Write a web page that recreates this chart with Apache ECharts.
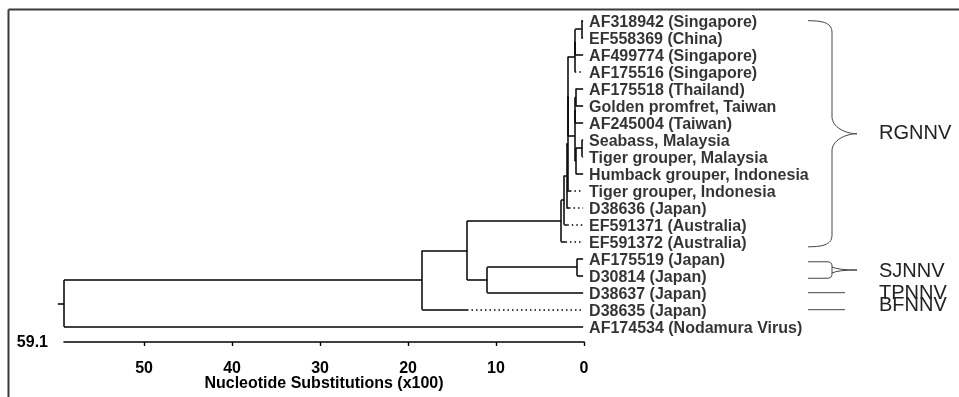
<!DOCTYPE html>
<html>
<head>
<meta charset="utf-8">
<script src="https://cdn.jsdelivr.net/npm/echarts@6/dist/echarts.min.js"></script>
<style>
  html, body { margin: 0; padding: 0; background: #fff; }
  #main { width: 959px; height: 397px; }
</style>
</head>
<body>
<div id="main"></div>
<script>
// leaves, top to bottom
const leafNames = [
  'AF318942 (Singapore)', 'EF558369 (China)', 'AF499774 (Singapore)', 'AF175516 (Singapore)',
  'AF175518 (Thailand)', 'Golden promfret, Taiwan', 'AF245004 (Taiwan)', 'Seabass, Malaysia',
  'Tiger grouper, Malaysia', 'Humback grouper, Indonesia', 'Tiger grouper, Indonesia',
  'D38636 (Japan)', 'EF591371 (Australia)', 'EF591372 (Australia)', 'AF175519 (Japan)',
  'D30814 (Japan)', 'D38637 (Japan)', 'D38635 (Japan)', 'AF174534 (Nodamura Virus)'
];
// internal nodes (children listed before parents), distance from tips (x100 substitutions)
const nodeIds   = ['P01', 'N1', 'N2', 'N3', 'N4', 'F', 'G', 'M', 'K', 'C3', 'C2', 'C1', 'C', 'E', 'D', 'B', 'A', 'root'];
const nodeDist  = [0.3, 1.0, 1.05, 0.95, 1.0, 0.2, 0.95, 1.05, 1.85, 1.9, 2.0, 2.25, 2.6, 0.8, 11.0, 13.3, 18.4, 59.1];
const nodeKids  = [[0, 1], ['P01', 2], ['N1', 3], [4, 5], ['N3', 6], [7, 8], ['F', 9], ['N4', 'G'], ['N2', 'M'],
                   ['K', 10], ['C3', 11], ['C2', 12], ['C1', 13], [14, 15], ['E', 16], ['C', 'D'], ['B', 17], ['A', 18]];
const tipDist = 0.1;
// leaf branches drawn dotted from this distance to the tip
const dottedFrom = { 3: 1.05, 10: 1.6, 11: 1.7, 12: 1.9, 13: 2.1, 17: 13.3 };
const rootStub = 59.8;
const xMax = 59.1;
const xTicks = [0, 10, 20, 30, 40, 50];
// genotype groups: [first leaf, last leaf] (in leaf index units)
const groupNames = ['RGNNV', 'SJNNV', 'TPNNV', 'BFNNV'];
const groupTop = [0, 14.18, 16, 17];
const groupBottom = [13.3, 15.15, 16, 17];

const nodes = {};
function pos(k) {
  return typeof k === 'number' ? { d: tipDist, y: k } : nodes[k];
}
nodeIds.forEach((id, n) => {
  const ys = nodeKids[n].map(k => pos(k).y);
  nodes[id] = { d: nodeDist[n], y: (ys[0] + ys[ys.length - 1]) / 2 };
});

const segs = [];
nodeIds.forEach((id, n) => {
  const d = nodeDist[n];
  const ys = nodeKids[n].map(k => pos(k).y);
  segs.push({ coords: [[d, Math.min(...ys)], [d, Math.max(...ys)]] });
  nodeKids[n].forEach(k => {
    const p = pos(k);
    if (typeof k === 'number' && dottedFrom[k] !== undefined) {
      const f = dottedFrom[k];
      if (f < d) segs.push({ coords: [[d, p.y], [f, p.y]] });
      segs.push({ coords: [[f, p.y], [tipDist, p.y]], lineStyle: { type: [1.5, 3] } });
    } else {
      segs.push({ coords: [[d, p.y], [p.d, p.y]] });
    }
  });
});
segs.push({ coords: [[rootStub, nodes.root.y], [xMax, nodes.root.y]] });

const chart = echarts.init(document.getElementById('main'));
const font = '"Liberation Sans", Arial, sans-serif';

// brace + group name, drawn to the right of the tree
const x0 = 808, x1 = 832, xp = 857, xText = 879;
const textShift = [0, 1.5, 1, -4];
function renderGroup(params, api) {
  const t = api.coord([0, api.value(0)])[1];
  const b = api.coord([0, api.value(1)])[1];
  const m = (t + b) / 2;
  let path;
  if (b - t > 60) {
    path = `M${x0},${t} C${x0 + 17},${t} ${x1},${t + 3} ${x1},${t + 12} L${x1},${m - 17}` +
      ` C${x1},${m - 7} ${x1 + 13},${m} ${xp},${m} C${x1 + 13},${m} ${x1},${m + 7} ${x1},${m + 17}` +
      ` L${x1},${b - 12} C${x1},${b - 3} ${x0 + 17},${b} ${x0},${b}`;
  } else if (b - t > 5) {
    path = `M${x0},${t} L${x1 - 5},${t} Q${x1},${t} ${x1},${t + 4} L${x1},${b - 4} Q${x1},${b} ${x1 - 5},${b} L${x0},${b}` +
      ` M${x1},${m - 3} Q${x1 + 6},${m} ${xp},${m} M${x1},${m + 3} Q${x1 + 6},${m} ${xp},${m}`;
  } else {
    path = `M${x0},${m} L${x0 + 37},${m}`;
  }
  const idx = params.dataIndex;
  return {
    type: 'group',
    children: [
      { type: 'path', shape: { pathData: path }, style: { fill: 'none', stroke: '#444', lineWidth: 1 } },
      {
        type: 'text', x: xText, y: m + textShift[idx],
        style: { text: groupNames[idx], verticalAlign: 'middle', fill: '#222', fontSize: 20, fontFamily: font }
      }
    ]
  };
}

chart.setOption({
  animation: false,
  backgroundColor: '#fff',
  grid: { left: 64, right: 375, top: 20.7, bottom: 70.3, outerBoundsMode: 'none', containLabel: false },
  xAxis: {
    type: 'value',
    inverse: true,
    min: 0,
    max: xMax,
    offset: 15.3,
    splitLine: { show: false },
    axisLine: { onZero: false, lineStyle: { color: '#000', width: 1.6 } },
    axisTick: { length: 4, customValues: xTicks, lineStyle: { color: '#000', width: 1.4 } },
    axisLabel: {
      customValues: xTicks, margin: 19,
      color: '#000', fontSize: 16, fontWeight: 'bold', fontFamily: font
    },
    name: 'Nucleotide Substitutions (x100)',
    nameLocation: 'middle',
    nameGap: 34,
    nameMoveOverlap: false,
    nameTextStyle: { color: '#000', fontSize: 16, fontWeight: 'bold', fontFamily: font }
  },
  yAxis: { type: 'value', inverse: true, min: 0, max: 18, show: false },
  graphic: [
    { id: 'frameTop', type: 'line', shape: { x1: 8.5, y1: 9.5, x2: 959, y2: 9.5 }, style: { stroke: '#3a3a3a', lineWidth: 2 } },
    { id: 'frameLeft', type: 'line', shape: { x1: 8.5, y1: 9.5, x2: 8.5, y2: 397 }, style: { stroke: '#3a3a3a', lineWidth: 2 } }
  ],
  series: [
    {
      type: 'lines',
      coordinateSystem: 'cartesian2d',
      polyline: false,
      clip: false,
      silent: true,
      lineStyle: { color: '#000', width: 1.5, opacity: 1 },
      data: segs
    },
    {
      type: 'scatter',
      symbolSize: 0,
      silent: true,
      label: {
        show: true, position: 'right', distance: 6, offset: [0, 2], formatter: '{b}',
        color: '#000', fontSize: 16, fontWeight: 'bold', fontFamily: font
      },
      data: leafNames.map((name, i) => ({ name, value: [tipDist, i] }))
    },
    {
      type: 'custom',
      clip: false,
      silent: true,
      renderItem: renderGroup,
      data: groupNames.map((n, k) => [groupTop[k], groupBottom[k]])
    }
  ]
});

// root length written at the left end of the axis
const axisY = chart.convertToPixel({ gridIndex: 0 }, [0, 18])[1] + 15.3;
const axisLeft = chart.convertToPixel({ gridIndex: 0 }, [xMax, 0])[0];
chart.setOption({
  graphic: [{
    id: 'rootLen', type: 'text', x: axisLeft - 16, y: axisY + 1,
    style: { text: String(xMax), align: 'right', verticalAlign: 'middle', fill: '#000',
             fontSize: 16, fontWeight: 'bold', fontFamily: font }
  }]
});
</script>
</body>
</html>
